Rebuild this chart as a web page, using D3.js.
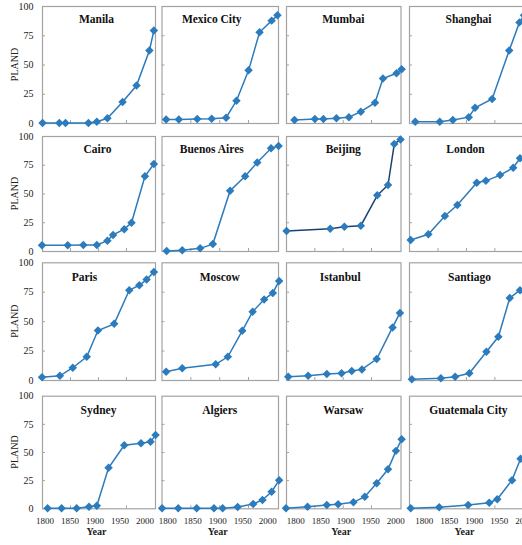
<!DOCTYPE html>
<html>
<head>
<meta charset="utf-8">
<script src="https://cdn.jsdelivr.net/npm/d3@7"></script>
<style>
  body { margin: 0; background: #fff; }
  svg { display: block; }
</style>
</head>
<body>
<svg id="chart" width="522" height="545"></svg>
<script>
// Urban land share (PLAND, %) over time for sixteen cities
const cities = ["Manila", "Mexico City", "Mumbai", "Shanghai",
                "Cairo", "Buenos Aires", "Beijing", "London",
                "Paris", "Moscow", "Istanbul", "Santiago",
                "Sydney", "Algiers", "Warsaw", "Guatemala City"];

const years = [
  [1801, 1831, 1842, 1883, 1898, 1917, 1944, 1969, 1992, 2000],
  [1808, 1830, 1862, 1887, 1912, 1930, 1951, 1970, 1991, 2001],
  [1815, 1851, 1866, 1889, 1911, 1932, 1957, 1971, 1995, 2004],
  [1811, 1854, 1877, 1905, 1916, 1946, 1976, 1994, 2002],
  [1800, 1846, 1874, 1898, 1917, 1927, 1947, 1960, 1984, 2000],
  [1809, 1836, 1867, 1889, 1919, 1945, 1966, 1990, 2003],
  [1801, 1878, 1903, 1932, 1961, 1980, 1991, 2002],
  [1803, 1834, 1863, 1885, 1919, 1935, 1960, 1983, 1995],
  [1800, 1832, 1855, 1880, 1900, 1929, 1956, 1974, 1987, 2000],
  [1808, 1836, 1894, 1915, 1940, 1958, 1978, 1993, 2004],
  [1804, 1839, 1872, 1898, 1916, 1934, 1960, 1988, 2001],
  [1805, 1856, 1881, 1906, 1936, 1957, 1977, 1995],
  [1810, 1835, 1862, 1884, 1898, 1919, 1947, 1977, 1994, 2003],
  [1801, 1829, 1861, 1891, 1906, 1932, 1959, 1975, 1991, 2004],
  [1800, 1838, 1872, 1892, 1919, 1939, 1960, 1980, 1994, 2004],
  [1803, 1853, 1904, 1941, 1955, 1981, 1996]
];

const pland = [
  [0, 0, 0, 0, 1, 4, 18, 32, 62, 79],
  [3, 3, 3.4, 3.7, 4.5, 19, 45, 77.5, 87.5, 92],
  [2.6, 3.4, 3.4, 4, 5, 9.7, 17.4, 38, 42.5, 46],
  [1, 1, 2.6, 5, 13, 20.5, 62, 86, 92],
  [5, 5, 5.2, 5.2, 9, 14, 19, 24.6, 65, 75.7],
  [0, 0.6, 2.3, 6, 52.4, 65, 77, 89.3, 91.3],
  [17.4, 19.4, 21, 22, 48.4, 57.4, 93, 97],
  [9.6, 14.5, 30.4, 40, 59.4, 61, 66, 72.4, 80.6],
  [2.3, 3.6, 10.4, 19.7, 42, 47.7, 76.3, 80.5, 85.3, 91.8],
  [7, 9.9, 13.3, 19.7, 41.8, 58, 68.4, 74, 84.2],
  [2.8, 3.6, 5, 5.7, 7.6, 9, 17.8, 44.7, 57],
  [0.6, 1.4, 2.8, 5.7, 24, 36.7, 69.7, 76.3],
  [0, 0, 0, 1.4, 2.3, 36, 56, 57.7, 59, 65],
  [0, 0, 0, 0, 0, 1.2, 3.8, 7.4, 14.7, 25],
  [0, 1.4, 2.9, 3.6, 5.3, 10.3, 22.2, 34.6, 51, 61.3],
  [0, 0.9, 2.9, 5, 8, 25, 44]
];

const yTicks = [0, 25, 50, 75, 100];
const yInnerTicks = [25, 50, 75];
const xTicks = [1800, 1850, 1900, 1950, 2000];
const xInnerTicks = [1850, 1900, 1950];

// Grid layout
const colLeft = [42, 161.5, 286, 409];
const colWidth = [113, 116.5, 114.5, 115];
const rowTop = [6, 136, 262.3, 395.7];
const rowBottom = [123, 251, 380, 508.3];
const titleDrop = [17, 17.3, 18.5, 18];
const titleShift = [-2, -8, 0, 2, -1, -8, 0, -1, -14, 0, -3, 3, 0, 0, 0, 2];
const yearLabelStart = [2.6, 5.7, 9.3, 14.7];

const serif = "'Liberation Serif', 'Times New Roman', serif";
const seriesColor = "#2b7bbd";
const beijingLine = "#1d3f72";
const frameColor = "#a3a3a3";

const svg = d3.select("#chart");
const marker = d3.symbol().type(d3.symbolSquare).size(36);

cities.forEach((city, i) => {
  const r = Math.floor(i / 4), c = i % 4;
  const w = colWidth[c], h = rowBottom[r] - rowTop[r];
  const g = svg.append("g").attr("transform", `translate(${colLeft[c]},${rowTop[r]})`);

  const x = d3.scaleLinear().domain([1800, 2002]).range([0, w]);
  const y = d3.scaleLinear().domain([0, 100]).range([h, 0]);

  g.append("rect")
    .attr("x", 0.5).attr("y", 0.5)
    .attr("width", w).attr("height", h)
    .attr("fill", "#fff")
    .attr("stroke", frameColor).attr("stroke-width", 1.2);

  // inward tick marks
  const yIn = g.append("g").call(d3.axisLeft(y).tickValues(yInnerTicks).tickSize(-3).tickFormat(""));
  yIn.select(".domain").remove();
  yIn.selectAll("line").attr("stroke", frameColor);
  const xIn = g.append("g").attr("transform", `translate(0,${h})`)
    .call(d3.axisBottom(x).tickValues(xInnerTicks).tickSize(-3).tickFormat(""));
  xIn.select(".domain").remove();
  xIn.selectAll("line").attr("stroke", frameColor);

  if (c === 0) {
    const ya = g.append("g").call(d3.axisLeft(y).tickValues(yTicks).tickSize(0).tickPadding(8.5));
    ya.select(".domain").remove();
    ya.selectAll("text").attr("font-family", serif).attr("font-size", 10).attr("fill", "#222");
    g.append("text")
      .attr("transform", `translate(-23.7,${h / 2}) rotate(-90)`)
      .attr("text-anchor", "middle")
      .attr("font-family", serif).attr("font-size", 10).attr("fill", "#222")
      .text("PLAND");
  }

  if (r === 3) {
    const s = yearLabelStart[c];
    const xl = d3.scaleLinear().domain([1800, 2000]).range([s, s + 100]);
    const xa = g.append("g").attr("transform", `translate(0,${h})`)
      .call(d3.axisBottom(xl).tickValues(xTicks).tickFormat(d3.format("d")).tickSize(0).tickPadding(9.6));
    xa.select(".domain").remove();
    xa.selectAll("text").attr("font-family", serif).attr("font-size", 9).attr("fill", "#222");
    g.append("text")
      .attr("x", w / 2 - 2).attr("y", h + 27.2)
      .attr("text-anchor", "middle")
      .attr("font-family", serif).attr("font-size", 10).attr("font-weight", "bold").attr("fill", "#222")
      .text("Year");
  }

  g.append("text")
    .attr("x", w / 2 + titleShift[i]).attr("y", titleDrop[r])
    .attr("text-anchor", "middle")
    .attr("font-family", serif).attr("font-size", 11.5).attr("font-weight", "bold").attr("fill", "#111")
    .text(city);

  const pts = years[i].map((yr, k) => [yr, pland[i][k]]);
  g.append("path")
    .datum(pts)
    .attr("fill", "none")
    .attr("stroke", city === "Beijing" ? beijingLine : seriesColor)
    .attr("stroke-width", 1.5)
    .attr("d", d3.line().x(d => x(d[0])).y(d => y(d[1])));

  g.selectAll("path.pt")
    .data(pts)
    .join("path")
    .attr("class", "pt")
    .attr("d", marker)
    .attr("fill", seriesColor)
    .attr("transform", d => `translate(${x(d[0])},${y(d[1])}) rotate(45)`);
});
</script>
</body>
</html>
